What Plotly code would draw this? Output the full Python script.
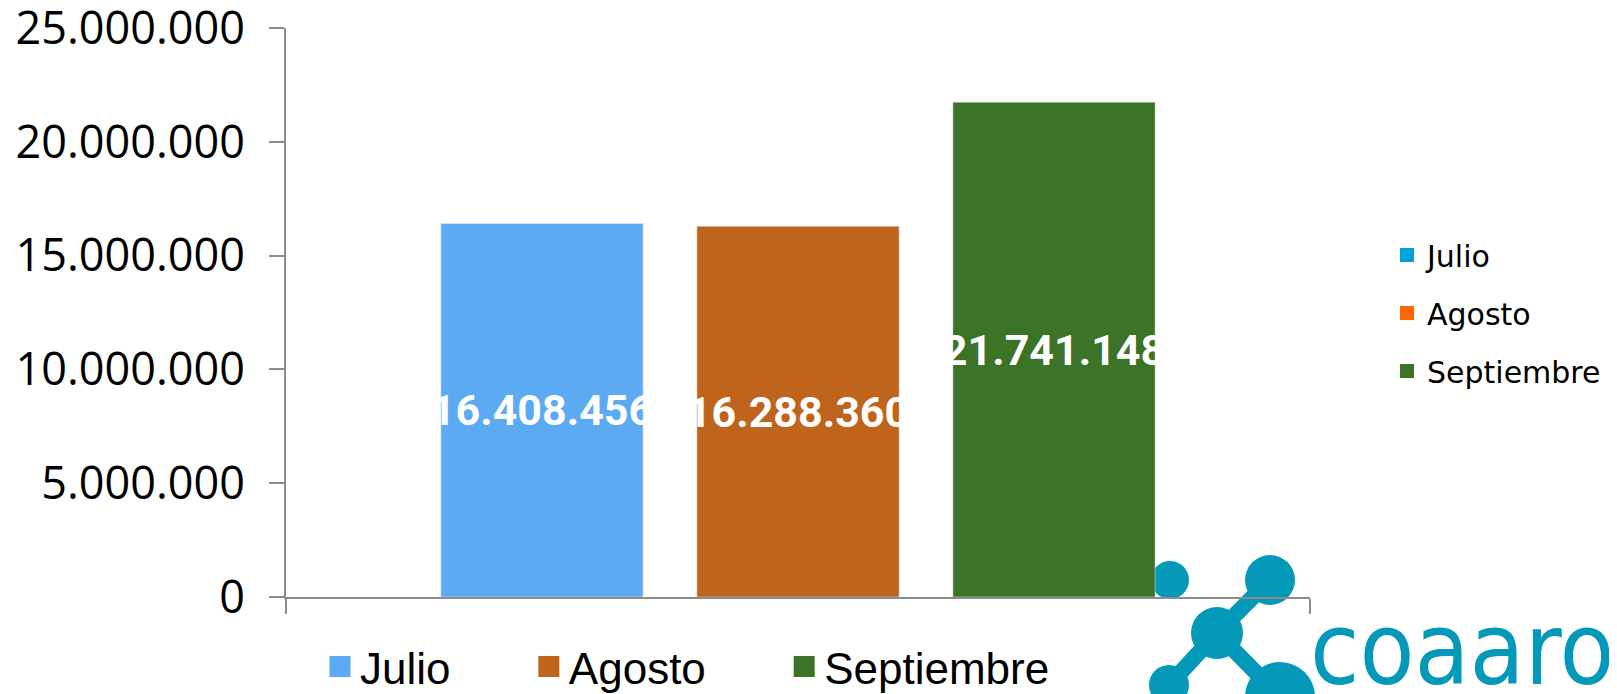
import plotly.graph_objects as go

# Data
months = ["Julio", "Agosto", "Septiembre"]
values = [16408456, 16288360, 21741148]
bar_colors = ["#5BAAF2", "#BF641C", "#3B7327"]
side_colors = ["#009FDA", "#FF6600", "#3A7226"]
y_ticks = [0, 5000000, 10000000, 15000000, 20000000, 25000000]

# Geometry: the page puts the figure 8px in from the window's top-left,
# so the figure is 8px smaller and all layout targets below are in window pixels.
OFF = 8
W, H = 1617 - OFF, 694 - OFF
PX0, PX1, PY0, PY1 = 286, 1310, 28, 597          # plot area in window pixels
L, T = PX0 - OFF, PY0 - OFF
R, B = W - L - (PX1 - PX0), H - T - (PY1 - PY0)


def px(x):
    return (x - PX0) / (PX1 - PX0)


def py(y):
    return (PY1 - y) / (PY1 - PY0)


AXIS = "#8C8C8C"
TEAL = "#0499B8"

fig = go.Figure()

# bars
for m, v, c in zip(months, values, bar_colors):
    fig.add_trace(go.Bar(
        x=[0], y=[v], name=m, legendgroup=m, showlegend=False,
        marker_color=c,
        texttemplate="%{y:,d}", textposition="inside", textangle=0,
        insidetextanchor="middle", constraintext="none",
        textfont=dict(family="Roboto", size=43, color="white", weight="bold"),
        cliponaxis=False,
    ))

# bottom legend entries
for m, c in zip(months, bar_colors):
    fig.add_trace(go.Scatter(
        x=[None], y=[None], mode="markers", name=m + "\u00a0" * 6,
        legend="legend", legendgroup=m,
        marker=dict(symbol="square", size=16, color=c, line=dict(color=c, width=5)),
    ))

# right legend entries
for m, c in zip(months, side_colors):
    fig.add_trace(go.Scatter(
        x=[None], y=[None], mode="markers", name=m,
        legend="legend2", legendgroup="side_" + m,
        marker=dict(symbol="square", size=14, color=c),
    ))

# logo (circles + links)
shapes = []


def circle(cx, cy, r):
    return dict(type="circle", xref="paper", yref="paper", layer="below",
                x0=px(cx - r), x1=px(cx + r), y0=py(cy + r), y1=py(cy - r),
                fillcolor=TEAL, line=dict(width=0))


def link(xa, ya, xb, yb):
    return dict(type="line", xref="paper", yref="paper", layer="below",
                x0=px(xa), x1=px(xb), y0=py(ya), y1=py(yb),
                line=dict(color=TEAL, width=16))


shapes += [
    link(1217, 633, 1270, 580),
    link(1217, 633, 1169, 685),
    link(1217, 633, 1280, 697),
    circle(1170, 580, 19),
    circle(1270, 580, 25),
    circle(1217, 633, 26),
    circle(1169, 685, 20),
    circle(1280, 697, 35),
]

fig.add_annotation(
    text="coaaro", xref="paper", yref="paper", x=px(1308), y=py(650),
    xanchor="left", yanchor="middle", showarrow=False,
    font=dict(family="DejaVu Sans Condensed", size=100, color=TEAL),
)

fig.update_layout(
    width=W, height=H,
    margin=dict(l=L, r=R, t=T, b=B, autoexpand=False),
    paper_bgcolor="white", plot_bgcolor="rgba(0,0,0,0)",
    separators=",.",
    barmode="group", bargap=0.25, bargroupgap=0.21,
    shapes=shapes,
    xaxis=dict(range=[-0.5, 0.5], tickvals=[-0.5, 0.5], showticklabels=False,
               ticks="outside", ticklen=15, tickwidth=2, tickcolor=AXIS,
               showline=True, linecolor=AXIS, linewidth=2,
               showgrid=False, zeroline=False),
    yaxis=dict(range=[0, 25000000], tickvals=y_ticks, tickformat=",d",
               ticks="outside", ticklen=15, tickwidth=2, tickcolor=AXIS,
               showline=True, linecolor=AXIS, linewidth=2,
               showgrid=False, zeroline=False, ticklabelstandoff=15,
               ticklabeloverflow="allow",
               tickfont=dict(family="Open Sans", size=45, color="black")),
    legend=dict(orientation="h", x=px(320), xanchor="left",
                y=py(667), yanchor="middle",
                font=dict(family="Liberation Sans", size=44, color="black"),
                bgcolor="rgba(0,0,0,0)"),
    legend2=dict(x=px(1387), xanchor="left", y=py(229), yanchor="top",
                 font=dict(family="DejaVu Sans", size=30, color="black"),
                 tracegroupgap=16, bgcolor="rgba(0,0,0,0)"),
)

fig.write_html("out.html")
